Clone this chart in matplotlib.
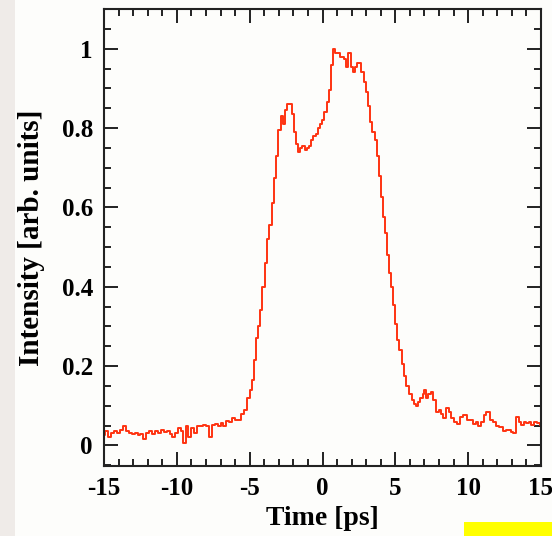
import numpy as np
import matplotlib
matplotlib.use("Agg")
import matplotlib.pyplot as plt
from matplotlib.patches import Rectangle
from matplotlib.ticker import MultipleLocator

time_ps = [
    -15.0, -14.8, -14.6, -14.4, -14.2, -14.0, -13.8, -13.6, -13.4, -13.2,
    -13.0, -12.8, -12.6, -12.4, -12.2, -12.0, -11.8, -11.6, -11.4, -11.2,
    -11.0, -10.8, -10.6, -10.4, -10.2, -10.0, -9.8, -9.6, -9.5, -9.3,
    -9.1, -8.9, -8.7, -8.5, -8.3, -8.1, -7.9, -7.7, -7.5, -7.3,
    -7.1, -6.9, -6.7, -6.5, -6.3, -6.1, -5.9, -5.7, -5.5, -5.3,
    -5.1, -4.9, -4.75, -4.6, -4.5, -4.35, -4.2, -4.05, -3.9, -3.75,
    -3.55, -3.4, -3.25, -3.1, -2.95, -2.8, -2.65, -2.5, -2.35, -2.2,
    -2.05, -1.9, -1.75, -1.6, -1.45, -1.3, -1.15, -1.0, -0.85, -0.7,
    -0.55, -0.4, -0.25, -0.1, 0.05, 0.2, 0.35, 0.5, 0.65, 0.8,
    0.95, 1.1, 1.25, 1.4, 1.55, 1.7, 1.85, 2.0, 2.15, 2.3,
    2.45, 2.6, 2.75, 2.9, 3.05, 3.2, 3.35, 3.5, 3.65, 3.8,
    3.95, 4.05, 4.2, 4.35, 4.5, 4.6, 4.75, 4.9, 5.05, 5.2,
    5.35, 5.5, 5.65, 5.85, 6.05, 6.2, 6.35, 6.5, 6.65, 6.8,
    6.95, 7.05, 7.2, 7.35, 7.5, 7.7, 7.9, 8.05, 8.2, 8.4,
    8.55, 8.75, 8.9, 9.1, 9.3, 9.55, 9.8, 10.0, 10.25, 10.45,
    10.6, 10.75, 11.0, 11.15, 11.35, 11.6, 11.8, 12.0, 12.3, 12.5,
    12.7, 12.85, 13.0, 13.2, 13.4, 13.55, 13.7, 13.9, 14.1, 14.25,
    14.4, 14.6, 14.8, 15.0,
]
intensity = [
    0.025, 0.035, 0.022, 0.030, 0.035, 0.030, 0.040, 0.050, 0.035, 0.030,
    0.028, 0.032, 0.025, 0.028, 0.015, 0.030, 0.035, 0.028, 0.035, 0.030,
    0.038, 0.033, 0.035, 0.028, 0.020, 0.030, 0.045, 0.035, 0.005, 0.050,
    0.020, 0.045, 0.030, 0.050, 0.050, 0.052, 0.050, 0.020, 0.052, 0.055,
    0.050, 0.057, 0.050, 0.062, 0.058, 0.068, 0.063, 0.065, 0.080, 0.090,
    0.120, 0.140, 0.165, 0.215, 0.270, 0.300, 0.340, 0.400, 0.460, 0.520,
    0.555, 0.610, 0.675, 0.730, 0.795, 0.830, 0.810, 0.845, 0.860, 0.860,
    0.835, 0.790, 0.760, 0.740, 0.750, 0.755, 0.745, 0.750, 0.755, 0.770,
    0.780, 0.785, 0.800, 0.810, 0.820, 0.840, 0.865, 0.895, 0.960, 1.000,
    0.990, 0.990, 0.980, 0.980, 0.975, 0.955, 0.990, 0.955, 0.940, 0.955,
    0.965, 0.965, 0.940, 0.915, 0.890, 0.855, 0.815, 0.790, 0.770, 0.730,
    0.680, 0.625, 0.575, 0.535, 0.480, 0.435, 0.400, 0.355, 0.305, 0.265,
    0.240, 0.205, 0.175, 0.150, 0.130, 0.115, 0.105, 0.100, 0.110, 0.120,
    0.130, 0.140, 0.120, 0.130, 0.135, 0.115, 0.085, 0.090, 0.080, 0.070,
    0.095, 0.085, 0.070, 0.060, 0.055, 0.072, 0.077, 0.065, 0.065, 0.055,
    0.058, 0.050, 0.060, 0.077, 0.085, 0.065, 0.058, 0.050, 0.047, 0.035,
    0.038, 0.040, 0.034, 0.032, 0.072, 0.060, 0.052, 0.060, 0.056, 0.060,
    0.052, 0.058, 0.056, 0.052,
]

x_ticks = [-15, -10, -5, 0, 5, 10, 15]
x_ticklabels = ["-15", "-10", "-5", "0", "5", "10", "15"]
y_ticks = [0, 0.2, 0.4, 0.6, 0.8, 1.0]
y_ticklabels = ["0", "0.2", "0.4", "0.6", "0.8", "1"]

plt.rcParams["font.family"] = ["Liberation Serif", "DejaVu Serif"]
plt.rcParams["font.weight"] = "bold"

fig = plt.figure(figsize=(5.52, 5.36), dpi=100, facecolor="#fdfdfb")
fig.patches.append(Rectangle((0, 0), 15 / 552, 1, transform=fig.transFigure,
                             facecolor="#efebe8", edgecolor="none", zorder=0))
fig.patches.append(Rectangle((464 / 552, 0), 88 / 552, 14 / 536, transform=fig.transFigure,
                             facecolor="#ffff00", edgecolor="none", zorder=0))

ax = fig.add_axes([104 / 552, 1 - 466 / 536, 437 / 552, 457 / 536])
ax.set_facecolor("#fdfdfb")
ax.plot(time_ps, intensity, color="#ff3311", lw=1.4, drawstyle="steps-mid")

ax.set_xlim(-15, 15)
ax.set_ylim(-0.052, 1.1)
ax.set_xticks(x_ticks)
ax.set_xticklabels(x_ticklabels)
ax.set_yticks(y_ticks)
ax.set_yticklabels(y_ticklabels)
ax.xaxis.set_minor_locator(MultipleLocator(1))
ax.yaxis.set_minor_locator(MultipleLocator(0.05))

ax.tick_params(which="both", direction="in", top=True, right=True, width=1.4, color="#222222")
ax.tick_params(which="major", length=10, labelsize=18, pad=8)
ax.tick_params(which="minor", length=5)
for s in ax.spines.values():
    s.set_linewidth(1.5)
    s.set_color("#222222")

ax.set_xlabel("Time [ps]", fontsize=20, fontweight="bold", labelpad=4)
ax.set_ylabel("Intensity [arb. units]", fontsize=21, fontweight="bold", labelpad=12)

fig.savefig("out.png", dpi=100, facecolor=fig.get_facecolor())
